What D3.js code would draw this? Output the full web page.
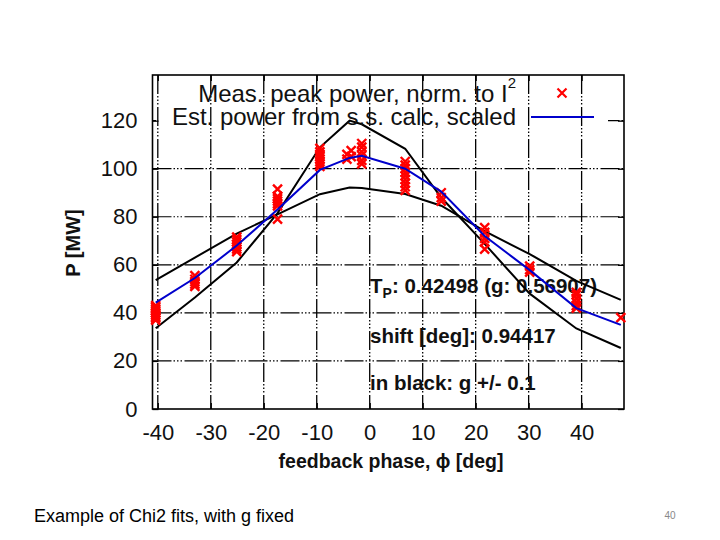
<!DOCTYPE html>
<html><head><meta charset="utf-8">
<script src="https://cdn.jsdelivr.net/npm/d3@7"></script>
<style>body{margin:0;background:#fff;} svg{display:block;font-family:"Liberation Sans",Arial,Helvetica,sans-serif;}</style>
</head><body><svg id="c" width="720" height="540"></svg>
<script>
// ---- data ----
const phases      = [-40.4, -33, -25.1, -17.4, -9.4, -3.8, -1.5, 6.7, 13.5, 21.7, 30.2, 39, 47.4];
const estPower    = [44.3, 54.5, 68, 83, 99.5, 104.5, 105.4, 100, 90.5, 72, 57.8, 42, 35];
const gMinusPower = [33.6, 46.4, 61, 81.5, 108.9, 120, 118.5, 108.3, 88, 68.7, 48, 33.5, 25.4];
const gPlusPower  = [53.6, 63, 73, 81, 89.4, 92.2, 92, 89.5, 84.6, 74, 64.5, 53.3, 45.4];
const measPhase = [
  -40.4,-40.4,-40.4,-40.4,-40.4,-40.4,-40.4,-40.4,-40.4,
  -33,-33,-33,-33,-33,
  -25.1,-25.1,-25.1,-25.1,-25.1,-25.1,-25.1,
  -17.4,-17.4,-17.4,-17.4,-17.4,-17.4,-17.4,
  -9.4,-9.4,-9.4,-9.4,-9.4,-9.4,-9.4,-9.4,
  -4.3,-4.3,-3.5,-3.5,
  -1.5,-1.5,-1.5,-1.5,-1.5,-1.5,
  6.7,6.7,6.7,6.7,6.7,6.7,6.7,6.7,6.7,
  13.5,13.5,13.5,
  21.7,21.7,21.7,21.7,21.7,
  30.2,30.2,30.2,
  39,39,39,39,39,39,
  47.4];
const measPower = [
  37,37.8,38.5,39.2,40,40.8,41.5,42.3,43,
  51,52,53,54,55.5,
  65.5,66.5,67.5,68.5,69.5,70.5,71.5,
  79,84.5,85.5,86.5,87.5,88.5,91.5,
  101,102,103,104,105,106,107,108.5,
  104,106,105,107.5,
  102,103.5,105.5,107,109,110.5,
  91,92.5,94,95.5,97,98.5,100,101.5,103,
  86.5,88,90,
  66.5,69.5,71,73.5,75.5,
  57,58,59.5,
  42,43,44.5,46,47.5,48.5,
  38];
const xTicks = [-40,-30,-20,-10,0,10,20,30,40];
const yTicks = [0,20,40,60,80,100,120];
const legendLabels = ["Meas. peak power, norm. to I", "Est. power from s.s. calc, scaled"];
const infoLines = ["0.42498 (g: 0.56907)", "shift [deg]: 0.94417", "in black: g +/- 0.1"];

// ---- chart ----
const svg = d3.select("#c");
const x = d3.scaleLinear().domain([-41, 48]).range([152.5, 624]);
const y = d3.scaleLinear().domain([0, 139]).range([409, 75]);
const x0 = x.range()[0], x1 = x.range()[1], yB = y.range()[0], yT = y.range()[1];
const gridDash = "19,2,1.5,2,1.5,2,1.5,2.5";
const fmt = d => String(d);

// horizontal grid
svg.append("g").selectAll("line").data(yTicks.filter(d => d > 0)).join("line")
  .attr("x1", x0).attr("x2", x1).attr("y1", d => y(d)).attr("y2", d => y(d))
  .attr("stroke", "#000").attr("stroke-width", 1.2).attr("stroke-dasharray", gridDash);
// opaque key box
svg.append("rect").attr("x", 156).attr("y", 78).attr("width", 452).attr("height", 52).attr("fill", "#fff");
// vertical grid
svg.append("g").selectAll("line").data(xTicks).join("line")
  .attr("x1", d => x(d)).attr("x2", d => x(d)).attr("y1", yT).attr("y2", yB)
  .attr("stroke", "#000").attr("stroke-width", 1.3).attr("stroke-dasharray", gridDash);

// axes
const ax = svg.append("g").attr("transform", `translate(0,${yB})`)
  .call(d3.axisBottom(x).tickValues(xTicks).tickFormat(fmt).tickSizeInner(-6).tickSizeOuter(0).tickPadding(15));
const ay = svg.append("g").attr("transform", `translate(${x0},0)`)
  .call(d3.axisLeft(y).tickValues(yTicks).tickFormat(fmt).tickSizeInner(-6).tickSizeOuter(0).tickPadding(15));
const at = svg.append("g").attr("transform", `translate(0,${yT})`)
  .call(d3.axisTop(x).tickValues(xTicks).tickSizeInner(-6).tickSizeOuter(0).tickFormat(""));
const ar = svg.append("g").attr("transform", `translate(${x1},0)`)
  .call(d3.axisRight(y).tickValues(yTicks).tickSizeInner(-6).tickSizeOuter(0).tickFormat(""));
[ax, ay, at, ar].forEach(g => {
  g.select(".domain").remove();
  g.selectAll("line").attr("stroke", "#000").attr("stroke-width", 1.3);
  g.selectAll("text").attr("font-size", 22).attr("fill", "#111")
    .attr("font-family", "'Liberation Sans',Arial,sans-serif");
});

// frame
svg.append("rect").attr("x", x0).attr("y", yT).attr("width", x1 - x0).attr("height", yB - yT)
  .attr("fill", "none").attr("stroke", "#000").attr("stroke-width", 1.6);

// info text
const info = svg.append("g").attr("font-weight", "bold").attr("font-size", 20.5).attr("fill", "#111");
const t1 = info.append("text").attr("x", 370).attr("y", 293);
t1.append("tspan").text("T");
t1.append("tspan").attr("font-size", 14).attr("dy", 5).text("P");
t1.append("tspan").attr("dy", -5).text(": " + infoLines[0]);
info.append("text").attr("x", 370).attr("y", 343).text(infoLines[1]);
info.append("text").attr("x", 370).attr("y", 390).text(infoLines[2]);

// curves
const line = d3.line().x((d, i) => x(phases[i])).y(d => y(d));
svg.append("path").datum(gMinusPower).attr("d", line).attr("fill", "none").attr("stroke", "#000").attr("stroke-width", 2);
svg.append("path").datum(gPlusPower).attr("d", line).attr("fill", "none").attr("stroke", "#000").attr("stroke-width", 2);

// measured points
const cross = s => `M${-s},${-s}L${s},${s}M${-s},${s}L${s},${-s}`;
svg.append("g").selectAll("path").data(measPower).join("path")
  .attr("transform", (d, i) => `translate(${x(measPhase[i])},${y(d)})`)
  .attr("d", cross(4.5)).attr("stroke", "#f00").attr("stroke-width", 2.4).attr("fill", "none");

// estimated line (on top)
svg.append("path").datum(estPower).attr("d", line).attr("fill", "none").attr("stroke", "#0000cc").attr("stroke-width", 2);

// legend
const lg = svg.append("g").attr("font-size", 24).attr("fill", "#111").attr("text-anchor", "end");
const l1 = lg.append("text").attr("x", 516).attr("y", 102);
l1.append("tspan").text(legendLabels[0]);
l1.append("tspan").attr("font-size", 15).attr("dy", -14).text("2");
lg.append("text").attr("x", 516).attr("y", 125).text(legendLabels[1]);
svg.append("path").attr("transform", "translate(562,93)").attr("d", cross(4.5))
  .attr("stroke", "#f00").attr("stroke-width", 2.2).attr("fill", "none");
svg.append("line").attr("x1", 531).attr("x2", 594).attr("y1", 117).attr("y2", 117)
  .attr("stroke", "#0000cc").attr("stroke-width", 2);

// axis titles
svg.append("text").attr("x", 391).attr("y", 468).attr("text-anchor", "middle")
  .attr("font-weight", "bold").attr("font-size", 19.5).attr("fill", "#111")
  .text("feedback phase, \u03D5 [deg]");
svg.append("text").attr("transform", "translate(80,243) rotate(-90)").attr("text-anchor", "middle")
  .attr("font-weight", "bold").attr("font-size", 20).attr("fill", "#111").text("P [MW]");

// footer
svg.append("text").attr("x", 34).attr("y", 522).attr("font-size", 18).attr("fill", "#000")
  .text("Example of Chi2 fits, with g fixed");
svg.append("text").attr("x", 670).attr("y", 519).attr("text-anchor", "middle").attr("font-size", 10).attr("fill", "#888").text("40");
</script></body></html>
